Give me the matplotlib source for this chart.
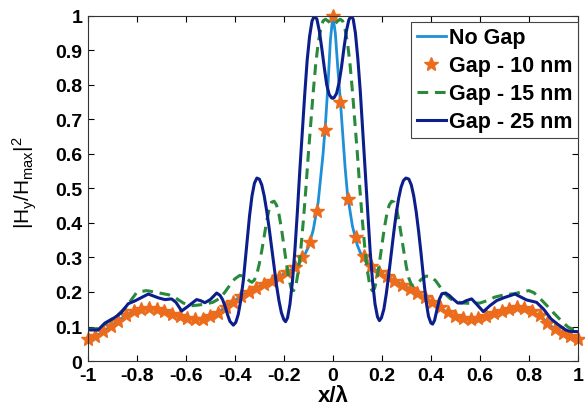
import matplotlib
matplotlib.use('Agg')
import matplotlib.pyplot as plt

plt.rcParams['font.family'] = ['Liberation Sans', 'DejaVu Sans']
plt.rcParams['mathtext.fontset'] = 'custom'
plt.rcParams['mathtext.rm'] = 'Liberation Sans'
plt.rcParams['mathtext.it'] = 'Liberation Sans'

# |Hy/Hmax|^2 along x/lambda, no gap (solid light blue)
x_nogap = [-1.00, -0.95, -0.90, -0.85, -0.80, -0.75, -0.70, -0.65, -0.60, -0.55,
           -0.50, -0.45, -0.40, -0.35, -0.30, -0.25, -0.20, -0.15, -0.12, -0.10,
           -0.08, -0.06, -0.05, -0.04, -0.03, -0.02, -0.01, 0.00, 0.01, 0.02,
           0.03, 0.04, 0.05, 0.06, 0.08, 0.10, 0.12, 0.15, 0.20, 0.25,
           0.30, 0.35, 0.40, 0.45, 0.50, 0.55, 0.60, 0.65, 0.70, 0.75,
           0.80, 0.85, 0.90, 0.95, 1.00]
y_nogap = [0.065, 0.079, 0.104, 0.130, 0.148, 0.155, 0.148, 0.136, 0.125, 0.121,
           0.128, 0.150, 0.176, 0.198, 0.216, 0.232, 0.252, 0.272, 0.300, 0.330,
           0.380, 0.460, 0.530, 0.600, 0.690, 0.800, 0.930, 1.000, 0.950, 0.850,
           0.760, 0.660, 0.560, 0.480, 0.390, 0.335, 0.300, 0.275, 0.252, 0.233,
           0.214, 0.195, 0.172, 0.148, 0.128, 0.121, 0.125, 0.136, 0.148, 0.155,
           0.148, 0.128, 0.095, 0.077, 0.064]

# gap 10 nm (star markers), sampled every 1/32
x_gap10 = [-1.000, -0.969, -0.938, -0.906, -0.875, -0.844, -0.813, -0.781, -0.750, -0.719,
           -0.688, -0.656, -0.625, -0.594, -0.563, -0.531, -0.500, -0.469, -0.438, -0.406,
           -0.375, -0.344, -0.313, -0.281, -0.250, -0.219, -0.188, -0.156, -0.125, -0.094,
           -0.063, -0.031, 0.000, 0.031, 0.063, 0.094, 0.125, 0.156, 0.188, 0.219,
           0.250, 0.281, 0.313, 0.344, 0.375, 0.406, 0.438, 0.469, 0.500, 0.531,
           0.563, 0.594, 0.625, 0.656, 0.688, 0.719, 0.750, 0.781, 0.813, 0.844,
           0.875, 0.906, 0.938, 0.969, 1.000]
y_gap10 = [0.065, 0.073, 0.086, 0.102, 0.117, 0.133, 0.144, 0.151, 0.155, 0.152,
           0.145, 0.136, 0.129, 0.124, 0.121, 0.123, 0.129, 0.140, 0.156, 0.172,
           0.187, 0.200, 0.211, 0.222, 0.232, 0.243, 0.257, 0.272, 0.300, 0.345,
           0.435, 0.670, 1.000, 0.750, 0.470, 0.358, 0.303, 0.276, 0.257, 0.245,
           0.233, 0.221, 0.209, 0.198, 0.185, 0.170, 0.156, 0.142, 0.130, 0.124,
           0.121, 0.124, 0.130, 0.138, 0.146, 0.152, 0.156, 0.153, 0.146, 0.134,
           0.110, 0.093, 0.081, 0.072, 0.064]

# gap 15 nm (dashed green)
x_gap15 = [-1.00, -0.96, -0.92, -0.88, -0.84, -0.80, -0.76, -0.73, -0.70, -0.67,
           -0.64, -0.61, -0.58, -0.55, -0.52, -0.49, -0.46, -0.44, -0.42, -0.40,
           -0.38, -0.36, -0.34, -0.33, -0.32, -0.31, -0.30, -0.29,
           -0.28, -0.27, -0.26, -0.25, -0.24, -0.23, -0.22, -0.21, -0.20, -0.19,
           -0.18, -0.17, -0.16, -0.15, -0.14, -0.13, -0.12, -0.11, -0.10, -0.09,
           -0.08, -0.07, -0.06, -0.05, -0.04, -0.03, -0.02, -0.01, 0.00, 0.01,
           0.02, 0.03, 0.04, 0.05, 0.06, 0.07, 0.08, 0.09, 0.10, 0.11,
           0.12, 0.13, 0.14, 0.15, 0.16, 0.17, 0.18, 0.19, 0.20, 0.21,
           0.22, 0.23, 0.24, 0.25, 0.26, 0.27, 0.28, 0.29, 0.30, 0.31,
           0.32, 0.33, 0.34, 0.36, 0.38, 0.40, 0.42, 0.44, 0.46, 0.48,
           0.50, 0.53, 0.56, 0.60, 0.63, 0.66, 0.70, 0.74, 0.77, 0.80,
           0.82, 0.84, 0.87, 0.90, 0.93, 0.96, 0.98, 1.00]
y_gap15 = [0.092, 0.094, 0.112, 0.131, 0.160, 0.199, 0.204, 0.200, 0.196, 0.192,
           0.182, 0.168, 0.160, 0.162, 0.165, 0.170, 0.182, 0.200, 0.220, 0.238,
           0.248, 0.245, 0.232, 0.228, 0.235, 0.252, 0.282, 0.320,
           0.362, 0.405, 0.440, 0.460, 0.463, 0.452, 0.425, 0.385, 0.335, 0.285,
           0.240, 0.210, 0.204, 0.222, 0.265, 0.330, 0.410, 0.500, 0.600, 0.690,
           0.780, 0.860, 0.920, 0.960, 0.985, 0.990, 0.985, 0.978, 0.975, 0.978,
           0.985, 0.990, 0.985, 0.960, 0.920, 0.860, 0.780, 0.690, 0.600, 0.500,
           0.410, 0.330, 0.265, 0.222, 0.204, 0.210, 0.240, 0.285, 0.335, 0.385,
           0.425, 0.452, 0.463, 0.460, 0.440, 0.405, 0.360, 0.315, 0.272, 0.240,
           0.222, 0.218, 0.222, 0.236, 0.246, 0.245, 0.232, 0.212, 0.193, 0.180,
           0.173, 0.168, 0.167, 0.168, 0.175, 0.185, 0.192, 0.195, 0.200, 0.204,
           0.198, 0.185, 0.163, 0.140, 0.118, 0.098, 0.092, 0.092]

# gap 25 nm (solid navy)
x_gap25 = [-1.000, -0.958, -0.930, -0.890, -0.862, -0.835, -0.808, -0.780, -0.753, -0.712,
           -0.685, -0.658, -0.640, -0.617, -0.590, -0.556, -0.540, -0.522, -0.500,
           -0.474, -0.460, -0.450, -0.440, -0.430, -0.420, -0.406, -0.396, -0.386, -0.376,
           -0.365, -0.352, -0.340, -0.330, -0.320, -0.310, -0.300, -0.290, -0.280,
           -0.270, -0.260, -0.250, -0.240, -0.230, -0.220, -0.210, -0.200, -0.193, -0.185,
           -0.175, -0.165, -0.155, -0.145, -0.135, -0.125, -0.115, -0.105, -0.095, -0.085,
           -0.075, -0.065, -0.055, -0.045, -0.035, -0.025, -0.015, -0.005, 0.000, 0.005,
           0.015, 0.025, 0.035, 0.045, 0.055, 0.065, 0.075, 0.083, 0.092, 0.102,
           0.112, 0.122, 0.132, 0.142, 0.152, 0.162, 0.172, 0.182, 0.190, 0.198,
           0.208, 0.218, 0.228, 0.238, 0.248, 0.258, 0.268, 0.278, 0.288, 0.298,
           0.310, 0.320, 0.330, 0.340, 0.350, 0.360, 0.370, 0.380, 0.390, 0.400,
           0.407, 0.415, 0.425, 0.435, 0.445, 0.460, 0.475, 0.490, 0.510, 0.525,
           0.545, 0.566, 0.590, 0.614, 0.640, 0.668, 0.700, 0.743, 0.790, 0.831,
           0.860, 0.890, 0.920, 0.950, 0.967, 1.000]
y_gap25 = [0.090, 0.090, 0.110, 0.126, 0.141, 0.166, 0.174, 0.184, 0.194, 0.183,
           0.178, 0.180, 0.170, 0.145, 0.159, 0.178, 0.175, 0.169, 0.178,
           0.197, 0.190, 0.178, 0.159, 0.135, 0.115, 0.104, 0.112, 0.135, 0.175,
           0.235, 0.330, 0.420, 0.478, 0.515, 0.530, 0.527, 0.510, 0.478,
           0.435, 0.385, 0.330, 0.275, 0.220, 0.175, 0.140, 0.120, 0.114, 0.125,
           0.165, 0.230, 0.320, 0.430, 0.550, 0.660, 0.770, 0.870, 0.940, 0.985,
           1.000, 0.990, 0.955, 0.905, 0.850, 0.800, 0.772, 0.762, 0.761, 0.763,
           0.775, 0.805, 0.850, 0.905, 0.955, 0.988, 1.000, 0.990, 0.950, 0.875,
           0.780, 0.665, 0.545, 0.430, 0.320, 0.230, 0.165, 0.128, 0.117, 0.125,
           0.150, 0.195, 0.250, 0.310, 0.370, 0.425, 0.470, 0.503, 0.523, 0.530,
           0.527, 0.510, 0.478, 0.432, 0.375, 0.310, 0.240, 0.175, 0.130, 0.110,
           0.107, 0.118, 0.150, 0.180, 0.195, 0.197, 0.190, 0.180, 0.168, 0.168,
           0.175, 0.180, 0.162, 0.143, 0.160, 0.175, 0.184, 0.194, 0.177, 0.170,
           0.150, 0.122, 0.105, 0.090, 0.086, 0.085]

fig = plt.figure(figsize=(5.85, 4.10), dpi=100)
ax = fig.add_axes([0.150, 0.117, 0.838, 0.842])

ax.plot(x_nogap, y_nogap, color='#1f8fd6', lw=2.0, label='No Gap')
ax.plot(x_gap10, y_gap10, ls='none', marker='*', ms=10, color='#ec6c1c',
        mec='#ec6c1c', clip_on=False, label='Gap - 10 nm')
ax.plot(x_gap15, y_gap15, color='#2a8a3c', lw=2.2, dashes=(3.5, 2.2), label='Gap - 15 nm')
ax.plot(x_gap25, y_gap25, color='#0c1e8c', lw=2.2, label='Gap - 25 nm')

ax.set_xlim(-1, 1)
ax.set_ylim(0, 1)
ax.set_xticks([-1, -0.8, -0.6, -0.4, -0.2, 0, 0.2, 0.4, 0.6, 0.8, 1])
ax.set_xticklabels(['-1', '-0.8', '-0.6', '-0.4', '-0.2', '0', '0.2', '0.4', '0.6', '0.8', '1'])
ax.set_yticks([0, 0.1, 0.2, 0.3, 0.4, 0.5, 0.6, 0.7, 0.8, 0.9, 1])
ax.set_yticklabels(['0', '0.1', '0.2', '0.3', '0.4', '0.5', '0.6', '0.7', '0.8', '0.9', '1'])
ax.tick_params(direction='in', top=True, right=True, length=4, width=0.8,
               labelsize=14, pad=4)
for lab in ax.get_xticklabels() + ax.get_yticklabels():
    lab.set_fontweight('bold')
for sp in ax.spines.values():
    sp.set_linewidth(0.8)
    sp.set_color('#333333')

ax.set_xlabel('x/\u03bb', fontsize=16, fontweight='bold', labelpad=1)
ax.set_ylabel(r'$|\mathrm{H_y/H_{max}}|^2$', fontsize=15)
ax.yaxis.set_label_coords(-0.1, 0.52)

leg = ax.legend(loc='upper right', bbox_to_anchor=(1.0, 0.983), fancybox=False,
                framealpha=1, edgecolor='#444444', borderpad=0.25, labelspacing=0.33,
                handlelength=1.35, handletextpad=0.15, borderaxespad=0.0,
                prop={'weight': 'bold', 'size': 15.5})
leg.get_frame().set_linewidth(0.8)

fig.savefig('out.png', dpi=100)
